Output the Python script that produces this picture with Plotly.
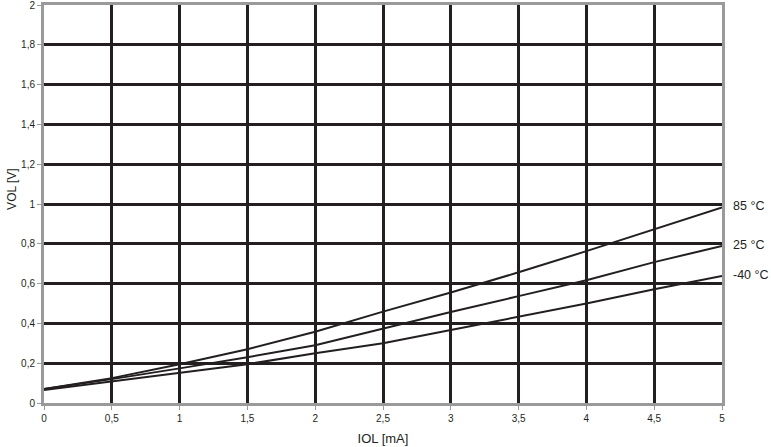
import plotly.graph_objects as go

iol = [0, 0.5, 1, 1.5, 2, 2.5, 3, 3.5, 4, 4.5, 5]
vol_85 = [0.07, 0.125, 0.195, 0.27, 0.358, 0.459, 0.555, 0.657, 0.763, 0.873, 0.983]
vol_25 = [0.07, 0.12, 0.174, 0.23, 0.29, 0.375, 0.457, 0.537, 0.617, 0.708, 0.789]
vol_m40 = [0.065, 0.108, 0.149, 0.195, 0.25, 0.30, 0.367, 0.432, 0.50, 0.572, 0.638]
series = [("85 °C", vol_85), ("25 °C", vol_25), ("-40 °C", vol_m40)]

x_ticks = [0, 0.5, 1, 1.5, 2, 2.5, 3, 3.5, 4, 4.5, 5]
x_labels = ["0", "0,5", "1", "1,5", "2", "2,5", "3", "3,5", "4", "4,5", "5"]
y_ticks = [0, 0.2, 0.4, 0.6, 0.8, 1, 1.2, 1.4, 1.6, 1.8, 2]
y_labels = ["0", "0,2", "0,4", "0,6", "0,8", "1", "1,2", "1,4", "1,6", "1,8", "2"]

INK = "#231f20"
FONT = "Liberation Sans, Arial"
fig = go.Figure()
for name, vals in series:
    fig.add_trace(go.Scatter(x=iol, y=vals, mode="lines", name=name,
                             line=dict(color=INK, width=2), showlegend=False))
    fig.add_annotation(x=1, xref="paper", y=vals[-1], yref="y", text=name,
                       showarrow=False, xanchor="left", xshift=9, yshift=1,
                       font=dict(family=FONT, size=12.5, color=INK))

# y-axis title (placed slightly above the centre, as in the reference)
fig.add_annotation(x=0, xref="paper", y=0.538, yref="paper", text="VOL [V]",
                   textangle=-90, showarrow=False, xanchor="center", yanchor="middle",
                   xshift=-32, font=dict(family=FONT, size=12, color=INK))

axis_common = dict(showgrid=True, gridcolor=INK, gridwidth=3, zeroline=False,
                   showline=True, linecolor="#9a9a9a", linewidth=3, mirror=True,
                   ticks="outside", ticklen=4, tickcolor="#9a9a9a", tickwidth=1,
                   automargin=False, ticklabeloverflow="allow",
                   tickfont=dict(family=FONT, size=10, color=INK))
fig.update_xaxes(range=[0, 5], tickvals=x_ticks, ticktext=x_labels,
                 title=dict(text="IOL [mA]", standoff=11,
                            font=dict(family=FONT, size=13, color=INK)),
                 **axis_common)
fig.update_yaxes(range=[0, 2], tickvals=y_ticks, ticktext=y_labels, **axis_common)
fig.update_layout(width=771, height=447, margin=dict(l=44, r=49, t=5, b=44),
                  plot_bgcolor="white", paper_bgcolor="white")
fig.write_html("out.html", config={"displayModeBar": False},
               post_script="document.body.style.margin='0';")
